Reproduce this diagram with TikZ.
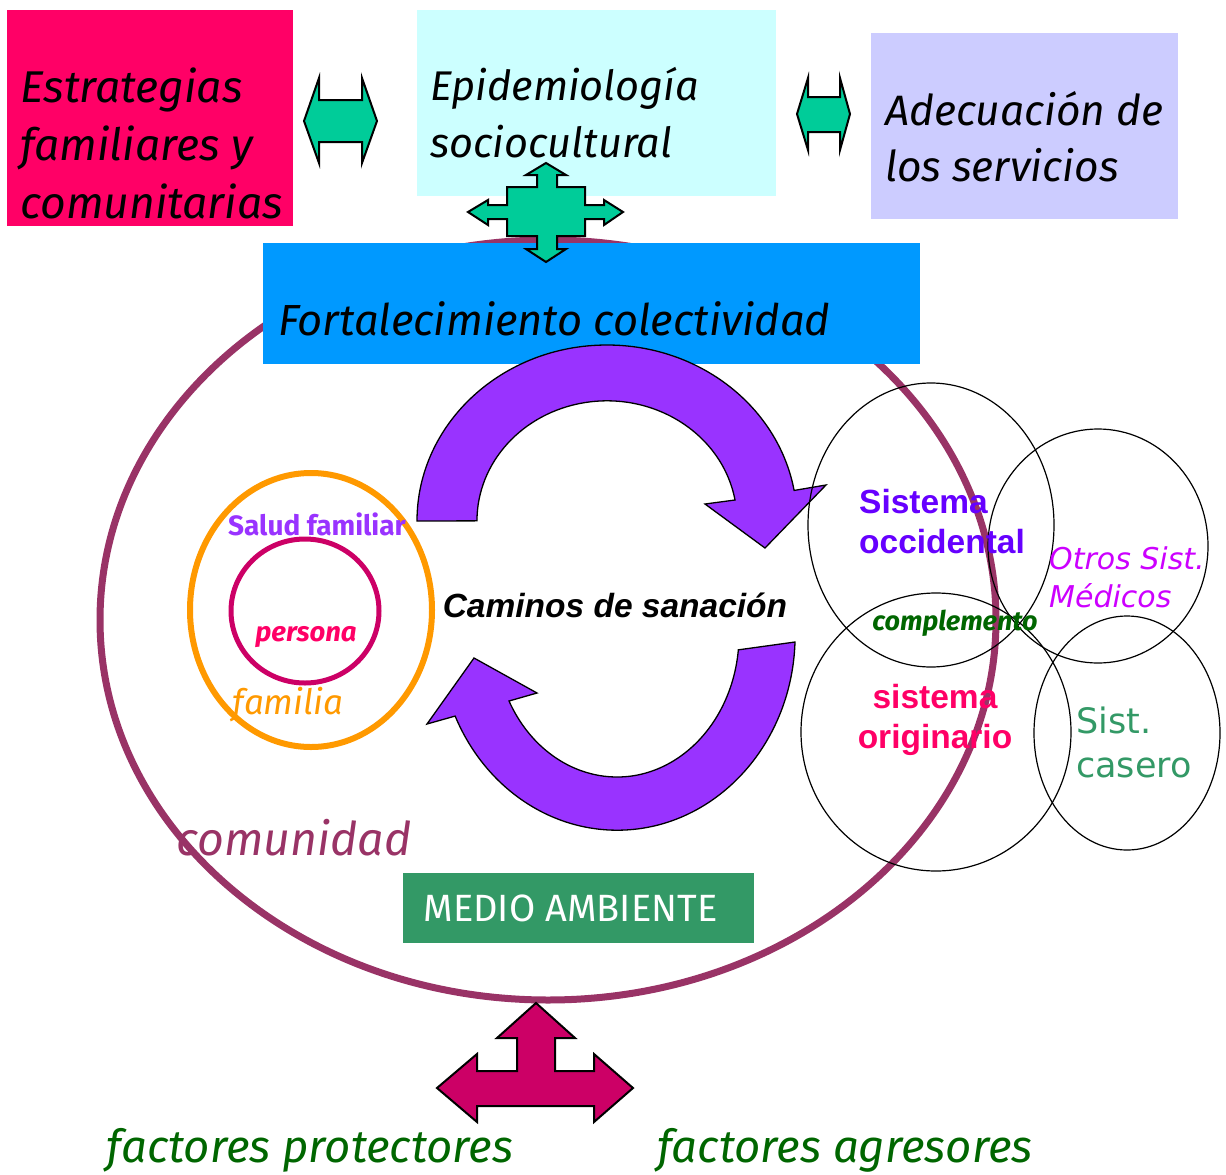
\documentclass[tikz,border=0pt]{standalone}
\usepackage{fontspec}
\setmainfont{Fira Sans}
\newfontfamily\arialfont{Liberation Sans}
\newfontfamily\verdanafont{DejaVu Sans}
\usetikzlibrary{positioning}
\definecolor{estrred}{HTML}{FF0066}
\definecolor{epicyan}{HTML}{CCFFFF}
\definecolor{adeclilac}{HTML}{CCCCFF}
\definecolor{fortblue}{HTML}{0099FF}
\definecolor{tealarrow}{HTML}{00CC99}
\definecolor{comunidadcol}{HTML}{993366}
\definecolor{familiaorange}{HTML}{FF9900}
\definecolor{personacirc}{HTML}{CC0066}
\definecolor{caminopurple}{HTML}{9933FF}
\definecolor{medioverde}{HTML}{339966}
\definecolor{factorverde}{HTML}{006600}
\definecolor{occviolet}{HTML}{6600FF}
\definecolor{otrosmagenta}{HTML}{CC00FF}
\tikzset{
  box/.style={rectangle, inner sep=0pt, outer sep=0pt},
  blockarrow/.style={draw=black, line width=2pt, line join=miter},
  caminoarrow/.style={fill=caminopurple, draw=black, line width=1.3pt},
  venn/.style={draw=black, line width=1.2pt},
  txt/.style={inner sep=0pt, align=left},
}
\newcommand{\fsz}[2]{\fontsize{#1pt}{#2pt}\selectfont}

\begin{document}
\begin{tikzpicture}[x=1pt, y=-1pt]
\useasboundingbox (0,0) rectangle (1226,1175);
% comunidad
\draw[comunidadcol, line width=7pt] (548,620) ellipse [x radius=448, y radius=380];

% top boxes
\node (estr) [box, fill=estrred, minimum width=286pt, minimum height=216pt] at (150,118) {};
\node (epi) [box, fill=epicyan, minimum width=359pt, minimum height=186pt] at (596.5,103) {};
\node (adec) [box, fill=adeclilac, minimum width=307pt, minimum height=186pt] at (1024.5,126) {};
\node (fort) [box, fill=fortblue, minimum width=657pt, minimum height=121pt] at (591.5,303.5) {};
\node (medio) [box, fill=medioverde, minimum width=351pt, minimum height=70pt, text=white, font=\fsz{38}{42}] at (578.5,908) {\hspace*{-16pt}MEDIO AMBIENTE};

\node (estrtxt) [txt, anchor=west, font=\fsz{44.5}{58}\itshape] at (20,143) {Estrategias\\familiares y\\comunitarias};
\node (epitxt) [txt, anchor=west, font=\fsz{41.5}{57}\itshape] at (430,113) {Epidemiología\\sociocultural};
\node (adectxt) [txt, anchor=west, font=\fsz{42.5}{56}\itshape] at (885,137) {Adecuación de\\los servicios};
\node (forttxt) [txt, anchor=west, font=\fsz{43.5}{48}\itshape] at (278,319) {Fortalecimiento colectividad};

% block arrows
\draw[blockarrow, fill=tealarrow] (304,121) -- (319,78) -- (319,100) -- (362,100) -- (362,78) -- (377,121)
  -- (362,163) -- (362,142) -- (319,142) -- (319,163) -- cycle;
\draw[blockarrow, fill=tealarrow] (797,114) -- (808,78) -- (808,97) -- (840,97) -- (840,78) -- (850,114)
  -- (840,150) -- (840,132) -- (808,132) -- (808,150) -- cycle;
\draw[blockarrow, fill=tealarrow] (546,163) -- (566,175) -- (557,175) -- (557,187) -- (585,187) -- (585,205)
  -- (604,205) -- (604,200) -- (623,212) -- (604,225) -- (604,219) -- (585,219) -- (585,236) -- (557,236)
  -- (557,249) -- (566,249) -- (546,262) -- (526,249) -- (537,249) -- (537,236) -- (507,236) -- (507,219)
  -- (488,219) -- (488,225) -- (468,212) -- (488,200) -- (488,205) -- (507,205) -- (507,187) -- (537,187)
  -- (537,175) -- (526,175) -- cycle;
\draw[blockarrow, fill=personacirc] (536,1003) -- (575,1038) -- (555,1038) -- (555,1071) -- (594,1071)
  -- (594,1054) -- (633,1088) -- (594,1122) -- (594,1106) -- (477,1106) -- (477,1122) -- (437,1088)
  -- (477,1054) -- (477,1071) -- (517,1071) -- (517,1038) -- (497,1038) -- cycle;

% caminos de sanacion
\draw[caminoarrow] (417,521) arc[start angle=180, end angle=350, x radius=190, y radius=176]
  -- (826,485) -- (765,548) -- (705,504) -- (735,500)
  arc[start angle=350, end angle=180, x radius=130, y radius=120] -- cycle;
\draw[caminoarrow] (795,642) arc[start angle=2, end angle=155.5, x radius=178, y radius=195]
  -- (427,724) -- (474,658) -- (537,693) -- (509,701)
  arc[start angle=152.3, end angle=6, x radius=122, y radius=142] -- cycle;
\node (caminos) [txt, font=\arialfont\bfseries\itshape\fsz{33.5}{38}] at (615,605) {Caminos de sanación};

% familia y persona
\draw[familiaorange, line width=6pt] (311,610) ellipse [x radius=121, y radius=137];
\draw[personacirc, line width=5pt] (305,611) ellipse [x radius=74, y radius=72];
\node (salud) [txt, text=caminopurple, font=\bfseries\fsz{28}{32}] at (317,524) {Salud familiar};
\node (persona) [txt, text=estrred, font=\bfseries\itshape\fsz{27.5}{30}] at (306,637) {persona};
\node (familia) [txt, text=familiaorange, font=\itshape\fsz{35}{40}] at (288,705) {familia};
\node (comunidad) [txt, text=comunidadcol, font=\itshape\fsz{46.5}{52}] at (294,838) {comunidad};

% sistemas
\draw[venn] (931,525) ellipse [x radius=123, y radius=142];
\draw[venn] (1098,546) ellipse [x radius=110, y radius=117];
\draw[venn] (936,732) ellipse [x radius=135, y radius=139];
\draw[venn] (1127,733) ellipse [x radius=93, y radius=117];
\node (occ) [txt, anchor=west, text=occviolet, font=\arialfont\bfseries\fsz{33.5}{40}] at (859,522) {Sistema\\occidental};
\node (otros) [txt, anchor=west, text=otrosmagenta, font=\verdanafont\itshape\fsz{30}{38}] at (1049,577) {Otros Sist.\\Médicos};
\node (compl) [txt, text=factorverde, font=\bfseries\itshape\fsz{27}{30}] at (955,623) {complemento};
\node (orig) [txt, align=center, text=estrred, font=\arialfont\bfseries\fsz{33.5}{40}] at (935,720) {sistema\\originario};
\node (casero) [txt, anchor=west, text=medioverde, font=\verdanafont\fsz{35}{44}] at (1076,742) {Sist.\\casero};

% factores
\node (protec) [txt, text=factorverde, font=\itshape\fsz{45.5}{50}] at (310,1150) {factores protectores};
\node (agres) [txt, text=factorverde, font=\itshape\fsz{45.5}{50}] at (845,1150) {factores agresores};
\end{tikzpicture}
\end{document}
